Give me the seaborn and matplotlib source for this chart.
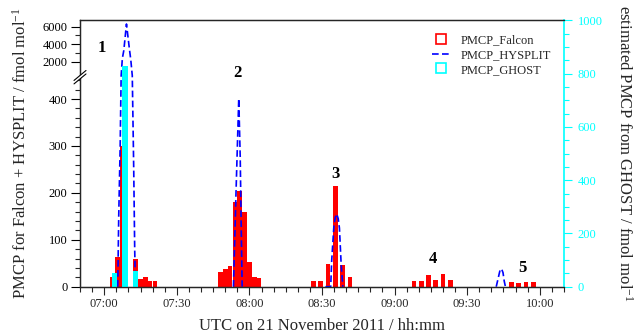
import numpy as np
import pandas as pd
import matplotlib
matplotlib.use("Agg")
import matplotlib.pyplot as plt
import seaborn as sns
from matplotlib.lines import Line2D
from matplotlib.ticker import FixedLocator, MultipleLocator, FuncFormatter

# ---------------- data (time = minutes after 07:00 UTC) ----------------
falcon_time = [3.5, 5.5, 7.5, 13, 15, 17, 19, 21,
               48, 50, 52, 54, 56, 58, 60, 62, 64,
               86.5, 89.5, 92.5, 95.5, 98.5, 101.5,
               128, 131, 134, 137, 140, 143,
               168.3, 171.3, 174.3, 177.3]
falcon_pmcp = [20, 63, 300, 60, 17, 20, 13, 13,
               31, 38, 44, 180, 204, 159, 52, 21, 19,
               12, 12, 48, 214, 46, 21,
               12, 12, 25, 14, 28, 14,
               10, 8, 10, 10]

ghost_time = [4.1, 8.6, 12.9]
ghost_pmcp = [50, 830, 60]

hysplit_peak = [1] * 13 + [2] * 7 + [3] * 10 + [5] * 7
hysplit_time = [5.6, 6.0, 6.6, 7.0, 7.5, 8.1, 9.2, 10.4, 11.0, 11.6, 12.2, 12.6, 12.9,
                53.4, 54.5, 55.1, 55.6, 56.2, 56.6, 57.0,
                91.4, 93.6, 94.0, 94.9, 95.5, 96.1, 96.7, 97.2, 97.9, 98.6,
                162.0, 162.8, 163.6, 164.2, 164.8, 165.3, 165.8]
hysplit_pmcp = [0, 150, 300, 450, 2400, 3300, 6300, 3500, 2200, 450, 250, 80, 0,
                0, 206, 312, 401, 277, 135, 0,
                0, 0, 55, 128, 148, 155, 145, 125, 50, 0,
                0, 18, 36, 38, 30, 12, 0]

event_labels = ["1", "2", "3", "4", "5"]
event_time = [-1.0, 55.1, 95.6, 135.7, 172.7]
event_ghost_units = [881, 786, 410, 88, 56]

left_major = [0, 100, 200, 300, 400, 2000, 4000, 6000]
left_minor = [20, 40, 60, 80, 120, 140, 160, 180, 220, 240, 260, 280,
              320, 340, 360, 380, 420, 440, 3000, 5000]

# ---------------- style ----------------
sns.set_theme(style="ticks")
plt.rcParams["font.family"] = ["Liberation Serif", "DejaVu Serif"]
plt.rcParams["mathtext.fontset"] = "custom"
plt.rcParams["mathtext.rm"] = "Liberation Serif"
plt.rcParams["mathtext.it"] = "Liberation Serif:italic"
plt.rcParams["axes.linewidth"] = 0.9

fig = plt.figure(figsize=(6.38, 3.36), dpi=100)
ax = fig.add_axes([0.1254, 0.1467, 0.7586, 0.7923])

BRK = 450.0
R = 0.01879


def fwd(y):
    y = np.asarray(y, dtype=float)
    return np.where(y <= BRK, y, BRK + (y - BRK) * R)


def inv(y):
    y = np.asarray(y, dtype=float)
    return np.where(y <= BRK, y, BRK + (y - BRK) / R)


ax.set_yscale("function", functions=(fwd, inv))
ax.set_ylim(0, 6698)
ax.set_xlim(-10, 190)

falcon_df = pd.DataFrame({"t": falcon_time, "v": falcon_pmcp})
sns.barplot(data=falcon_df, x="t", y="v", native_scale=True, orient="x",
            width=0.95, color="#ff0000", saturation=1, errorbar=None,
            linewidth=0, ax=ax)

hys_df = pd.DataFrame({"t": hysplit_time, "v": hysplit_pmcp, "peak": hysplit_peak})
sns.lineplot(data=hys_df, x="t", y="v", units="peak", estimator=None, sort=False,
             color="#0000ff", linewidth=1.2, linestyle=(0, (4, 2)), ax=ax)

ax.set_ylim(0, 6698)
ax.set_xlim(-10, 190)

ax2 = ax.twinx()
ghost_df = pd.DataFrame({"t": ghost_time, "v": ghost_pmcp})
sns.barplot(data=ghost_df, x="t", y="v", native_scale=True, orient="x",
            width=0.5, color="#00ffff", saturation=1, errorbar=None,
            linewidth=0, ax=ax2)
ax2.set_ylim(0, 1000)
ax2.set_xlim(-10, 190)

# ---------------- axes formatting ----------------
ax.yaxis.set_major_locator(FixedLocator(left_major))
ax.yaxis.set_minor_locator(FixedLocator(left_minor))
ax.yaxis.set_major_formatter(FuncFormatter(lambda v, p: f"{int(round(v))}"))
ax.xaxis.set_major_locator(MultipleLocator(30))
ax.xaxis.set_minor_locator(MultipleLocator(5))


def hhmm(v, p):
    m = int(round(7 * 60 + v))
    return f"{m // 60:02d}:{m % 60:02d}"


ax.xaxis.set_major_formatter(FuncFormatter(hhmm))
ax.tick_params(axis="y", which="major", length=6.7, width=0.8, labelsize=9,
               pad=2.4, colors="black")
ax.tick_params(axis="y", which="minor", length=3.6, width=0.8)
ax.tick_params(axis="x", which="major", length=6, width=0.8, labelsize=9, pad=2)
ax.tick_params(axis="x", which="minor", length=3.6, width=0.8)

ax2.yaxis.set_major_locator(MultipleLocator(200))
ax2.yaxis.set_minor_locator(MultipleLocator(50))
ax2.tick_params(axis="y", which="major", length=6, width=0.8, labelsize=9,
                pad=4, colors="#00ffff")
ax2.tick_params(axis="y", which="minor", length=3.6, width=0.8, colors="#00ffff")
ax2.spines["right"].set_color("#00ffff")
ax2.spines["right"].set_linewidth(1.2)
ax.spines["right"].set_visible(False)

ax.set_xlabel("UTC on 21 November 2011 / hh:mm", fontsize=12, labelpad=6)
ax.set_ylabel(r"PMCP for Falcon + HYSPLIT / fmol mol$^{\mathrm{-1}}$", fontsize=12,
              labelpad=9)
ax2.set_ylabel(r"estimated PMCP from GHOST / fmol mol$^{\mathrm{-1}}$", fontsize=12,
               rotation=270, labelpad=22)

# axis break marks on the left spine
yb = 0.787
dx, dy, sep = 0.0124, 0.0187, 0.013
ax2.fill([-dx, dx, dx, -dx], [yb - dy - sep / 2, yb + dy - sep / 2,
                             yb + dy + sep / 2, yb - dy + sep / 2],
         transform=ax2.transAxes, color="white", clip_on=False, zorder=6, lw=0)
for off in (-sep / 2, sep / 2):
    ax2.plot([-dx, dx], [yb - dy + off, yb + dy + off], transform=ax2.transAxes,
             color="black", lw=0.8, clip_on=False, zorder=7)

# event numbers
for lab, tx, ty in zip(event_labels, event_time, event_ghost_units):
    ax2.text(tx, ty, lab, ha="center", va="baseline", fontsize=12,
             fontweight="bold", color="black")

handles = [
    Line2D([], [], marker="s", markersize=7, markerfacecolor="white",
           markeredgecolor="#ff0000", linestyle="None", markeredgewidth=1.2),
    Line2D([], [], color="#0000ff", linewidth=1.2, linestyle=(0, (4, 2))),
    Line2D([], [], marker="s", markersize=7, markerfacecolor="white",
           markeredgecolor="#00ffff", linestyle="None", markeredgewidth=1.2),
]
ax2.legend(handles, ["PMCP_Falcon", "PMCP_HYSPLIT", "PMCP_GHOST"],
           loc="upper left", bbox_to_anchor=(0.677, 0.898),
           bbox_transform=fig.transFigure, frameon=False, fontsize=9,
           handlelength=1.4, handletextpad=0.9, labelspacing=0.22,
           borderaxespad=0, borderpad=0)

fig.savefig("out.png", dpi=100)
